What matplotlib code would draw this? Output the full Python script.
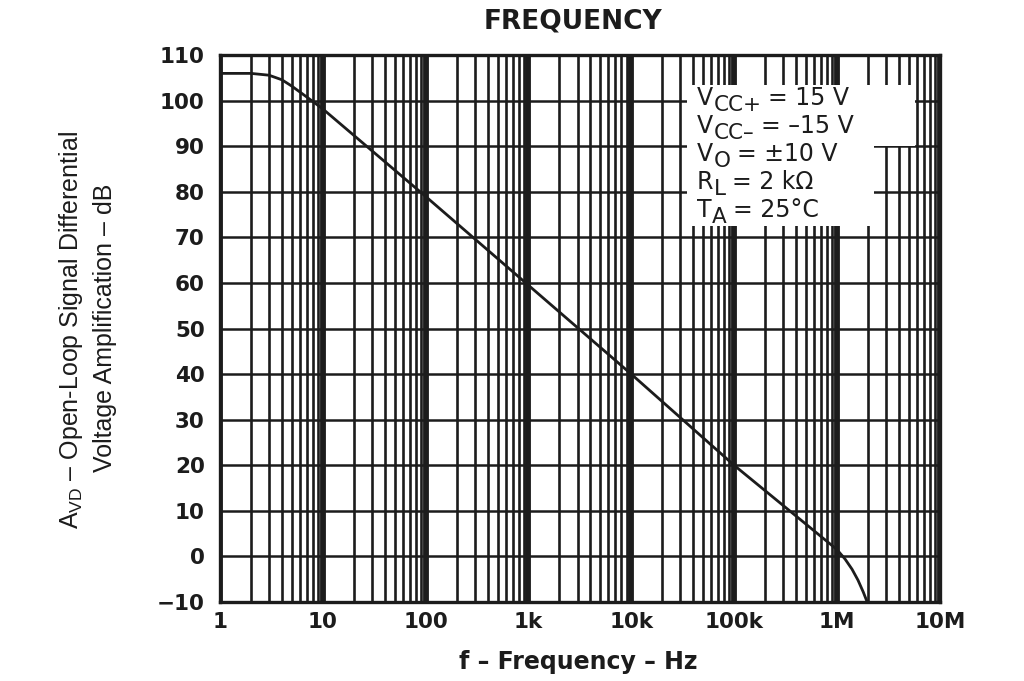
import numpy as np
import matplotlib; matplotlib.use("Agg")
import matplotlib.pyplot as plt
from matplotlib.patches import Rectangle

plt.rcParams['font.family'] = ['DejaVu Sans']
plt.rcParams['mathtext.fontset'] = 'custom'
plt.rcParams['mathtext.rm'] = 'Liberation Sans'

# gain curve (Hz, dB)
freq = [1, 2, 3, 4, 5, 7, 10, 100, 1e3, 1e4, 1e5, 1e6, 1.2e6, 1.4e6, 1.6e6, 1.8e6, 1.95e6]
gain = [106, 106, 105.6, 104.6, 103.2, 100.8, 98.2, 79, 59.5, 40, 20, 1.5, -0.6, -2.8, -5.2, -7.8, -9.8]

xticks = [1, 10, 100, 1e3, 1e4, 1e5, 1e6, 1e7]
xlabels = ["1", "10", "100", "1k", "10k", "100k", "1M", "10M"]
yticks = list(range(-10, 111, 10))
# test conditions: (main, subscript, rest)
cond = [("V", "CC+", "= 15 V"), ("V", "CC–", "= –15 V"), ("V", "O", "= ±10 V"),
        ("R", "L", "= 2 kΩ"), ("T", "A", "= 25°C")]

ink = "#1c1c1c"
fig = plt.figure(figsize=(10.24, 6.81), dpi=100)
ax = fig.add_axes([0.2148, 0.116, 0.703, 0.803])
ax.set_xscale("log")
ax.set_xlim(1, 1e7); ax.set_ylim(-10, 110)

# grid: light lines 2..9 per decade, heavy lines at decades
for d in range(7):
    for m in range(2, 10):
        ax.axvline(m * 10**d, color=ink, lw=1.9, zorder=1)
for x in xticks:
    ax.axvline(x, color=ink, lw=4.2, zorder=1)
for y in yticks:
    ax.axhline(y, color=ink, lw=1.8, zorder=1)

# white area behind the conditions
ax.add_patch(Rectangle((0.649, 0.834), 0.316, 0.111, transform=ax.transAxes,
                       facecolor="white", edgecolor="none", zorder=2))
ax.add_patch(Rectangle((0.649, 0.687), 0.259, 0.150, transform=ax.transAxes,
                       facecolor="white", edgecolor="none", zorder=2))
ax.plot(freq, gain, color=ink, lw=2.0, zorder=3)

fig.canvas.draw()
r = fig.canvas.get_renderer()
pt = 72.0 / fig.dpi
for i, (a, sub, rest) in enumerate(cond):
    yb = 0.9086 - i * 0.0512
    dx = 0.0
    for s, size, dy, gap in [(a, 17, 0, 0.5), (sub, 15.5, -4.5, 4.5), (rest, 17, 0, 0)]:
        t = ax.annotate(s, (0.6625, yb), xycoords="axes fraction", xytext=(dx, dy),
                        textcoords="offset points", fontsize=size, color=ink,
                        ha="left", va="baseline", zorder=4)
        dx += t.get_window_extent(r).width * pt + gap

ax.set_xticks(xticks); ax.set_xticklabels(xlabels)
ax.set_xticks([], minor=True)
ax.set_yticks(yticks)
ax.tick_params(length=0, labelsize=15.5, colors=ink)
ax.tick_params(axis="y", pad=11)
ax.tick_params(axis="x", pad=7)
for lab in ax.get_xticklabels() + ax.get_yticklabels():
    lab.set_fontweight("bold")
for sp in ax.spines.values():
    sp.set_linewidth(2.4); sp.set_color(ink)

fig.text(0.565, 0.028, "f – Frequency – Hz", fontsize=17, fontweight="bold", color=ink,
         ha="center", va="center")
fig.text(0.069, 0.515, r"A$_{\mathrm{VD}}$ – Open-Loop Signal Differential", rotation=90,
         fontsize=18, color=ink, ha="center", va="center", family="Liberation Sans")
fig.text(0.103, 0.518, "Voltage Amplification – dB", rotation=90,
         fontsize=18, color=ink, ha="center", va="center", family="Liberation Sans")
fig.text(0.560, 0.969, "FREQUENCY", fontsize=19, fontweight="bold", color=ink,
         ha="center", va="center")

fig.savefig("out.png", dpi=100)
